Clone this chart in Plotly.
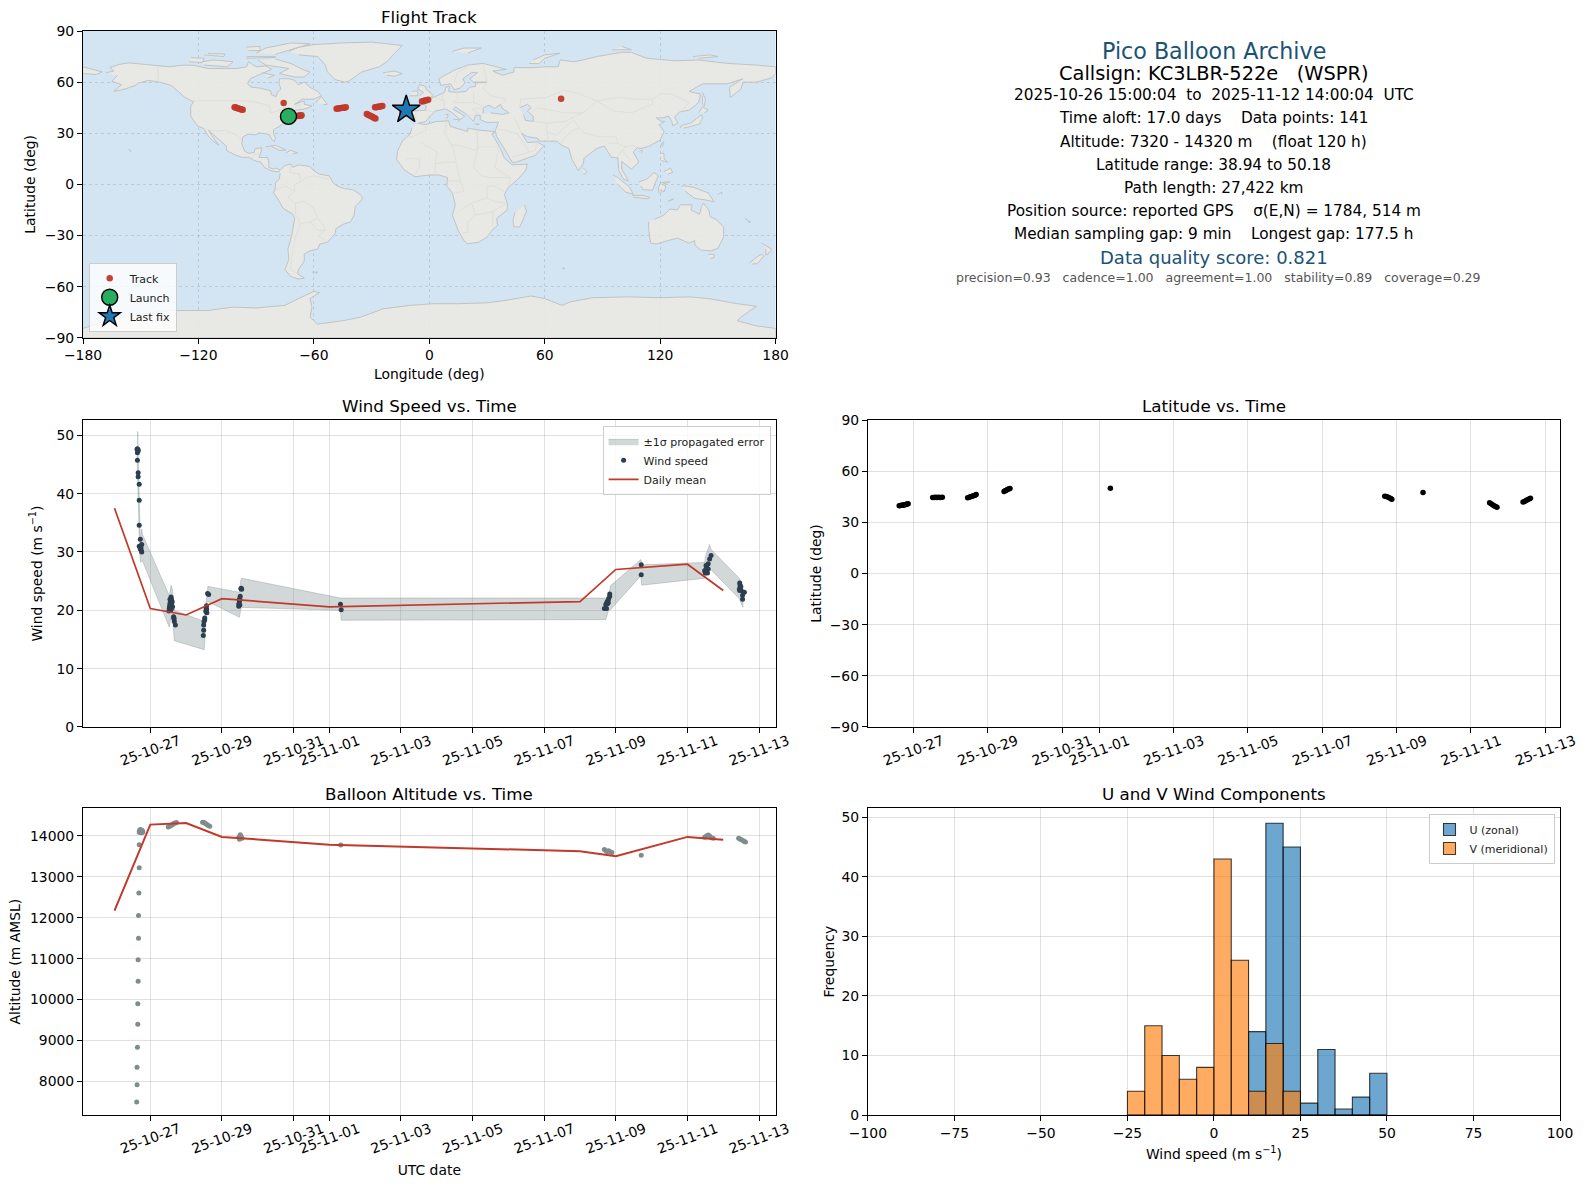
import pandas as pd
import plotly.graph_objects as go

W, H = 1587, 1189
BASE_DATE = pd.Timestamp("2025-10-26")

# axis boxes in pixels
LEFT_X = (83.3, 776)
RIGHT_X = (868.3, 1560.5)
ROW1_Y = (31.4, 338)
ROW2_Y = (420.3, 727)
ROW3_Y = (808.3, 1114.8)

# coastlines as (lon, lat)
NORTH_AMERICA = [(-168, 65.5), (-164, 66.5), (-166, 68.5), (-161, 70.5), (-156, 71.3), (-148, 70.4), (-141, 69.6),
                 (-135, 69), (-128, 70), (-122, 69.8), (-115, 68), (-108, 68), (-100, 68), (-95, 69), (-94, 72),
                 (-90, 69), (-85, 69.5), (-82, 67.5), (-87, 65), (-93, 62), (-94.5, 59), (-92.5, 57), (-88, 56.5),
                 (-82.5, 55), (-82, 52.5), (-79.5, 51.5), (-79, 54), (-77, 56), (-78, 58.5), (-78, 62), (-73, 62),
                 (-70, 61), (-68, 58.5), (-65, 60), (-62, 57), (-58, 54.5), (-56, 52), (-60, 50), (-66, 50), (-70, 47),
                 (-65, 49), (-65, 47), (-61, 46), (-64, 44.5), (-66, 44), (-70, 43.5), (-70.5, 41.7), (-74, 40.5),
                 (-75.5, 38), (-76, 35.5), (-78, 34), (-81, 32), (-81, 30), (-80, 27), (-80.5, 25.2), (-82, 26.5),
                 (-83, 29), (-85, 29.7), (-89, 30.2), (-90, 29), (-94, 29.5), (-97, 27.8), (-97.5, 24), (-96, 19.5),
                 (-94, 18.2), (-91, 18.8), (-90.5, 21), (-87, 21.5), (-88, 17), (-88.5, 15.8), (-84, 15.8), (-83.3, 12),
                 (-83.5, 10), (-81, 9), (-79.5, 9.5), (-77.5, 8.5), (-78, 7.5), (-80, 7.5), (-83, 8.3), (-85.7, 10),
                 (-87.5, 13), (-91, 14), (-94, 16), (-97, 15.8), (-101, 17.3), (-105.5, 20), (-105.5, 22.5), (-109, 26),
                 (-112.5, 30), (-114.7, 31.7), (-113, 28.5), (-110, 24), (-109.5, 23), (-112, 25), (-115, 28.5),
                 (-117, 32.5), (-120.5, 34.5), (-122.5, 37.5), (-124, 40), (-124, 46), (-122.5, 48.5), (-127, 51),
                 (-130.5, 54.5), (-134, 58), (-140, 60), (-146, 61), (-151, 59.5), (-153, 58), (-158, 56), (-164, 54.5),
                 (-160, 58.5), (-165, 60.5), (-162, 64)]
GREENLAND = [(-73, 78), (-68, 80.5), (-60, 82), (-45, 83), (-30, 83.5), (-14, 81.5), (-18, 77), (-22, 72), (-26, 69),
             (-35, 66), (-42, 60.5), (-44, 60), (-49, 61.5), (-53, 66), (-54, 70), (-58, 75), (-68, 76)]
SOUTH_AMERICA = [(-77.5, 8.5), (-75, 11), (-72, 12), (-71, 10), (-68, 11.5), (-62, 10.5), (-60, 8), (-57, 6), (-52, 5),
                 (-50, 1), (-48, -1), (-44, -2.5), (-40, -3), (-37, -5), (-35, -7), (-35, -9), (-38.5, -13), (-39, -18),
                 (-41, -22), (-45, -23.5), (-48.5, -26), (-49, -29), (-53, -34), (-57, -35), (-58, -38), (-62, -39),
                 (-65, -41), (-65, -45), (-68, -50), (-68.5, -52.5), (-65, -55), (-68, -55.5), (-72, -54), (-75, -50),
                 (-73, -44), (-73.5, -38), (-71.5, -30), (-70, -20), (-71, -17.5), (-76, -14), (-79, -8), (-81, -5),
                 (-80, -2), (-80, 1), (-78, 3), (-77.5, 6.5)]
AFRICA = [(-6, 35.8), (-2, 35), (3, 36.8), (10, 37.3), (11, 34), (15, 32.5), (20, 31), (20, 33), (25, 32), (31, 31.3),
          (34, 31), (32.5, 29.5), (34, 27), (37, 21), (39, 15.5), (43, 11.5), (51, 11.8), (50, 8), (46, 3), (41, -2),
          (39, -6), (40.5, -11), (40.5, -15), (35, -20), (35.5, -24), (32.5, -27), (30, -31), (25.5, -34), (20, -34.8),
          (18, -33), (15, -27), (12, -18), (13.5, -12), (12, -5), (9, -1), (9.5, 4), (5, 5.5), (0, 5.5), (-7.5, 4.5),
          (-13, 8.5), (-17, 14.5), (-16.5, 19.5), (-14, 25.5), (-10, 29.5), (-9, 33)]
EURASIA = [(-9, 37), (-9.5, 43), (-2, 43.5), (-1.5, 46), (-4.5, 48.5), (2, 51), (8, 54), (8.5, 57), (10.5, 57.5),
           (10, 54.5), (14, 54), (19, 54.5), (21, 57), (24, 57.5), (24, 59.5), (30, 60), (23, 60), (21, 62), (25, 65.5),
           (22, 65.7), (17.5, 62), (18.5, 59.5), (16, 56.5), (13, 55.5), (11, 59), (6, 58), (5, 62), (13, 67), (20, 70),
           (28, 71), (40, 67.5), (33, 66.5), (38, 64), (44, 66), (44, 68.5), (54, 68.5), (60, 69), (67, 69), (68, 73),
           (73, 72), (75, 72), (80, 73), (87, 75), (100, 77.5), (105, 77.5), (113, 74), (128, 72.5), (140, 73),
           (155, 71), (170, 70), (180, 69), (180, 65), (178, 62.5), (170, 60), (163, 60), (162, 56), (156.5, 51),
           (156, 57), (163, 62), (155, 59), (142, 59), (135, 54.5), (141, 53), (140, 48), (135, 43.5), (130, 42.5),
           (127.5, 39.5), (129.3, 36), (126.5, 34.5), (126, 37), (124.5, 40), (121, 39), (118, 39), (120.5, 37),
           (122.5, 37), (119.5, 35), (122, 31), (120, 26), (114, 22.3), (110, 21), (108, 21.5), (106, 19), (109, 13),
           (105, 9), (100, 13.5), (100, 9), (103.5, 2), (101, 3), (98.5, 8), (98, 15.5), (94.5, 16), (91, 22.5),
           (87, 21), (80.5, 15.5), (80, 12), (77.5, 8), (74, 15), (72.5, 21), (68, 23.5), (66.5, 25.3), (57, 25.5),
           (56.5, 27), (51, 28), (48, 30), (51, 24.5), (56, 25), (59.5, 22.5), (55, 17), (45, 13), (43, 13), (39, 21),
           (35, 28), (34.3, 31.5), (36, 36.5), (30, 36.3), (26.5, 38), (26.5, 40.5), (24, 40.5), (23, 37), (19.5, 41),
           (13.5, 45.5), (12.5, 44), (18.5, 40), (16, 38), (12, 42), (8.5, 44.3), (3, 43), (0, 39.5), (-2, 36.8),
           (-5.5, 36)]
CHUKOTKA_WEST = [(-180, 69), (-175, 67.5), (-170, 66), (-173, 64.5), (-180, 65)]
AUSTRALIA = [(114, -22), (114, -26), (115, -34.5), (118, -35), (124, -33), (129, -31.5), (135, -34.5), (138, -33),
             (138, -35.5), (141, -38.5), (146.5, -39), (150, -37.5), (153, -31), (153, -25), (149, -20.5), (146, -19),
             (145.3, -15), (142.5, -11), (141.5, -13), (140.5, -17.5), (136, -15), (136.7, -12), (130.5, -12),
             (129, -15), (125, -14.5), (122, -18), (117, -20.5)]
ANTARCTICA = [(-180, -84.5), (-165, -79), (-150, -76), (-135, -74), (-115, -74), (-102, -72), (-90, -72.5), (-75, -71),
              (-68, -67), (-60, -62.8), (-57, -63.5), (-62, -67), (-61, -72), (-62, -78), (-58, -82), (-45, -80),
              (-36, -78), (-24, -73), (-10, -71), (2, -70), (15, -70), (30, -69.5), (40, -68), (53, -65.5), (60, -67),
              (69, -71), (73, -69), (85, -66.5), (104, -66), (120, -66.5), (135, -66), (145, -67), (160, -70),
              (170, -71.5), (163, -77), (160, -80), (170, -83), (180, -84.5), (180, -90), (-180, -90)]
ISLANDS = [
    [(-80, 73.5), (-72, 71), (-65, 67), (-62, 66), (-65, 63), (-70, 63), (-78, 65), (-73, 68), (-85, 70), (-89, 73)],
    [(-90, 77), (-85, 80), (-72, 83), (-62, 82.5), (-75, 78), (-80, 76.3)],
    [(-117, 70), (-105, 69), (-102, 72), (-112, 73), (-118, 72)],
    [(-125, 72), (-118, 71.5), (-117, 74), (-124, 74.3)],
    [(-95, 75), (-80, 75), (-80, 74.5), (-95, 74)],
    [(-117, 76), (-107, 75), (-106, 76.5), (-115, 76.8)],
    [(-95, 80.5), (-88, 81), (-88, 78.5), (-94, 78.5)],
    [(-87, 65.5), (-80.5, 64), (-84, 62.5)],
    [(-59, 48), (-56, 51.5), (-53, 47), (-55, 46.8)],
    [(-85, 22), (-80, 23), (-75, 20.5), (-74.5, 20), (-78, 20), (-82, 22.3)],
    [(-74.5, 18.5), (-72, 20), (-68.5, 18.5), (-71, 18)],
    [(-156.5, 20.5), (-155, 19.8), (-155.5, 19)],
    [(-61, -51.5), (-58, -51.5), (-59, -52.3)],
    [(-5.5, 50), (1.5, 51.3), (1.5, 53), (-1.5, 55.5), (-2, 57.5), (-5, 58.5), (-6, 56), (-3, 54), (-5, 52)],
    [(-10, 52), (-6, 52), (-6, 55), (-9, 54.5)],
    [(-24, 65.5), (-18, 66.5), (-14, 65), (-18, 63.5), (-22, 64)],
    [(12, 78), (18, 80), (27, 80), (20, 77)],
    [(52, 71), (57, 70.8), (60, 74), (68, 77), (60, 76), (54, 73)],
    [(95, 79), (105, 79), (100, 81)],
    [(137, 75), (146, 76), (150, 75), (140, 74)],
    [(142, 54), (143.5, 50), (143, 46), (142, 47), (142, 52)],
    [(140, 42), (142, 45.5), (145, 43.5), (143, 42)],
    [(130.5, 33), (131, 34.5), (136, 36), (140, 40), (141.5, 41), (142, 39), (140.5, 35.5), (136, 34), (132, 33)],
    [(120.3, 22.5), (121.5, 25), (122, 24.5), (121, 22)],
    [(109, 19), (110.5, 20), (111, 19.5), (110, 18.3)],
    [(80, 9.5), (82, 7.5), (81, 6), (80, 6.5)],
    [(120.5, 18.5), (122, 18), (122, 15), (124, 13), (120.5, 14)],
    [(122, 7.5), (125.5, 9.5), (126.5, 7), (124, 6)],
    [(109, 1.5), (113, 3), (117, 7), (119, 5), (117.5, 1), (116, -3.5), (111, -3), (110, -1)],
    [(95.5, 5.5), (98, 4), (104, -1.5), (106, -5.8), (102, -4.5), (98, 0)],
    [(105.5, -6.5), (111, -6.5), (114.5, -7.5), (114, -8.5), (106, -7.5)],
    [(119.5, -5.5), (119, -2), (120.5, 1), (125, 1.5), (121, 0), (123, -1), (122, -4.5), (120.5, -3), (120.5, -5.5)],
    [(131, -1), (134, -1), (138, -2), (145, -5), (148, -10.2), (143, -9), (138, -8.3), (133, -4)],
    [(124, -10), (127, -8.5), (125, -9.5)],
    [(150, -6), (152, -4.5), (152, -6)],
    [(49.5, -12), (50.5, -16), (47, -25), (44, -25), (43.5, -21), (44.5, -16.5)],
    [(145, -41), (148, -41), (148, -43), (146, -43.5)],
    [(166.5, -46), (171, -42), (173, -41), (174, -42), (170.5, -46.5), (168, -46.7)],
    [(172.7, -34.5), (178, -38), (176, -41), (174.8, -41.3), (175, -38)],
    [(164, -20), (167, -22.3), (165.5, -21.8)],
    [(69, -49), (70.5, -49.3), (69.5, -49.8)],
    [(12.5, 38), (15.5, 38), (15, 36.8)],
    [(8.3, 41), (9.7, 41), (9.5, 39), (8.5, 39)],
    [(23.5, 35.5), (26, 35.3), (24.5, 35)],
]
INLAND_SEAS = [
    [(28, 41.5), (28, 45), (31, 46.5), (34, 44.5), (37, 47), (38, 44.5), (41.5, 42), (38, 41), (32, 42)],
    [(47, 45), (51, 47), (53, 45), (51, 43), (54, 40), (54, 37), (50, 37.5), (49, 41)],
]
BORDERS = [
    [(-141, 69.6), (-141, 60)],
    [(-123, 49), (-95, 49), (-89, 48), (-83, 46), (-82.5, 42), (-79, 43), (-75, 45), (-71, 45), (-67.5, 47), (-67, 45)],
    [(-117, 32.5), (-111, 31.3), (-106.5, 31.7), (-101, 29.5), (-97.5, 26)],
    [(-92, 14.5), (-91, 17.5), (-89, 18), (-88.5, 16)],
    [(-72, 11), (-72.5, 7), (-67.5, 6), (-67, 1.5)],
    [(-52, 3), (-60, 5), (-64, 4), (-67, 1.5), (-70, 0), (-70, -4), (-73.5, -7.5), (-70, -11), (-65, -10), (-60, -14),
     (-58, -20), (-55, -24), (-54, -27), (-57.5, -30), (-53.5, -33.5)],
    [(-69.5, -11), (-69.5, -17.5), (-67, -23), (-70, -33), (-71.5, -42), (-72, -50), (-68.5, -52.5)],
    [(-80, -3.5), (-75, -1), (-70, -4)],
    [(-67, -23), (-62, -22), (-58, -20)],
    [(-62, -22), (-58, -27), (-54, -27)],
    [(-2, 35), (-1.5, 32), (-8.5, 28), (-13, 27.5)],
    [(9, 37), (8, 30), (11.5, 23), (15, 23), (24, 20), (25, 22), (36.5, 22)],
    [(25, 32), (25, 20), (24, 15.5), (23, 10), (27, 5), (31, 4), (34, 4), (42, 4), (41, -2)],
    [(12, 23), (14, 13), (8, 13), (3, 12), (3, 6)],
    [(-5, 25), (4, 19), (3, 12)],
    [(-12, 15), (-5, 15), (-5, 10), (-8, 5)],
    [(14, 13), (15, 8), (16, 2), (9, 2)],
    [(16, 2), (18, -4), (12, -5.5)],
    [(30, -1), (30, -8), (22, -11), (13.5, -17)],
    [(22, -11), (24, -18), (20, -22), (20, -28), (17, -28.5)],
    [(24, -18), (33, -16), (40, -11)],
    [(30, -8), (34, -10), (40, -11)],
    [(33, -16), (33, -25)],
    [(30, -1), (34, -1), (39, -4.5)],
    [(36.5, 22), (34, 10), (42, 4)],
    [(-2, 43.5), (3, 42.5)],
    [(2.5, 51), (8, 49), (7.5, 44)],
    [(-7, 42), (-7, 37)],
    [(7, 53.5), (7, 49)],
    [(14, 54), (15, 51), (12.5, 48), (17, 48), (23, 48), (23, 54)],
    [(23, 48), (29, 45.5), (22, 44), (26, 41.5), (20, 40)],
    [(13, 60), (15, 66), (20, 69)],
    [(28, 70), (30, 60), (28, 56), (32, 52), (40, 50), (38, 47)],
    [(47, 45), (47.5, 50), (61, 51), (70, 55), (77, 53.5), (87, 49), (98, 51), (107, 50), (116, 50), (120, 53), (126, 53),
     (135, 48), (131, 43), (130.5, 42.5)],
    [(87, 49), (96, 43), (105, 42), (112, 45), (116, 47), (116, 50)],
    [(87, 49), (80, 42), (74, 39), (78, 33), (81, 30), (88, 28), (97, 28), (98, 24), (102, 22), (106, 23), (108, 21.5)],
    [(53, 42), (56, 45), (61, 44), (70, 42), (80, 42)],
    [(44, 39), (46, 35), (48, 30)],
    [(54, 37), (61, 36), (71, 37), (74, 39)],
    [(61, 36), (61, 31), (62, 25.5)],
    [(61, 31), (66, 29), (70, 33), (74, 37)],
    [(68, 23.5), (71, 28), (75, 32), (78, 33)],
    [(36, 32), (39, 32), (46, 29.5), (52, 19), (55, 20), (56, 24.5)],
    [(43, 16), (52, 19)],
    [(93, 24), (98, 24)],
    [(98, 16), (100, 20), (102, 22)],
    [(105, 14), (100, 20)],
]

# flight track on the map
track_lon = [-68.5, -68.0, -67.6, -67.2, -66.8, -66.4, -48.2, -47.4, -46.6, -45.8, -45.0, -44.2, -43.4,
             -28.2, -27.5, -26.8, -26.0, -25.2, -24.4, -3.8, -3.0, -2.2, -1.4, -0.6, 68.5,
             -101.2, -100.6, -100.0, -99.2, -98.4, -97.6, -97.0, -75.7,
             -32.5, -31.8, -31.0, -30.2, -29.4, -28.6, -28.0, -14.0, -13.0, -12.0]
track_lat = [40.1, 40.2, 40.2, 40.3, 40.3, 40.5, 44.4, 44.5, 44.7, 44.8, 44.9, 45.0, 45.2,
             45.2, 45.3, 45.5, 45.6, 45.8, 46.0, 48.7, 48.9, 49.2, 49.4, 49.7, 50.2,
             45.2, 45.1, 44.8, 44.5, 44.2, 44.0, 43.8, 47.7,
             41.3, 40.9, 40.4, 40.0, 39.5, 39.0, 38.6, 42.0, 43.0, 43.8]
launch_lon, launch_lat = [-73.2], [39.9]
last_lon, last_lat = [-12.0], [43.8]

# wind speed vs. time, x in days after 2025-10-26 00:00
wind_days = [0.63, 0.64, 0.66, 0.64, 0.66, 0.64, 0.66, 0.66, 0.69, 0.69, 0.69, 0.72, 0.69, 0.72, 0.76, 0.72, 0.75, 0.76,
             0.74, 1.52, 1.53, 1.54, 1.55, 1.54, 1.56, 1.57, 1.58, 1.59, 1.60, 1.60, 1.61, 1.59, 1.57, 1.55, 1.58, 1.62,
             1.65, 1.66, 1.67, 1.66, 1.70, 2.48, 2.49, 2.49, 2.50, 2.52, 2.52, 2.55, 2.56, 2.56, 2.57, 2.57, 2.58, 2.60,
             2.63, 3.47, 3.47, 3.49, 3.48, 3.50, 3.51, 3.50, 3.53, 3.55, 3.54, 6.31, 6.33, 13.68, 13.74, 13.72, 13.75,
             13.76, 13.78, 13.79, 13.80, 13.83, 13.83, 14.71, 14.71, 16.48, 16.52, 16.54, 16.58, 16.62, 16.66, 16.56,
             16.58, 16.52, 16.50, 17.46, 17.47, 17.47, 17.46, 17.50, 17.59, 17.54, 17.54, 17.49, 17.45]
wind_speed = [47.6, 47.7, 47.5, 47.0, 47.3, 45.7, 43.6, 42.9, 41.6, 38.85, 34.6, 32.2, 31.0, 30.8, 31.3, 30.5, 30.2, 30.0,
              30.7, 19.9, 20.3, 20.8, 21.2, 20.5, 21.6, 21.0, 22.3, 21.9, 21.3, 20.7, 21.5, 20.3, 20.0, 21.9, 20.9, 20.6,
              18.9, 18.5, 18.1, 18.7, 17.5, 15.7, 16.6, 17.5, 18.1, 18.4, 18.7, 19.8, 20.1, 20.4, 20.8, 20.2, 19.6, 22.9,
              22.7, 20.7, 21.1, 21.5, 21.8, 22.0, 22.4, 20.9, 23.7, 23.6, 23.8, 21.05, 20.1, 20.3, 20.3, 21.0, 21.4,
              21.1, 21.7, 21.3, 22.0, 22.4, 22.8, 27.8, 26.1, 26.8, 27.1, 27.7, 28.0, 28.8, 29.4, 26.4, 27.1, 27.7, 26.4,
              24.7, 24.3, 23.9, 23.4, 23.4, 23.1, 22.6, 21.9, 24.1, 23.6]

# error band corners
band_days = [0.63, 0.655, 0.665, 0.69, 0.70, 0.72, 0.73, 0.76, 0.78, 1.53, 1.58, 1.62, 1.65, 1.67, 2.505, 2.52, 2.56,
             2.61, 3.49, 3.52, 3.55, 6.31, 6.33, 13.72, 13.80, 13.85, 14.70, 14.72, 16.48, 16.52, 16.62, 16.65, 17.45,
             17.55]
band_upper = [50.7, 50.5, 45.5, 36.5, 34.0, 32.5, 32.0, 33.9, 33.0, 22.5, 24.3, 23.5, 21.0, 20.0, 18.1, 19.5, 21.5,
              24.1, 23.1, 25.0, 25.5, 22.1, 22.1, 22.1, 22.5, 24.2, 28.7, 27.8, 28.2, 29.6, 31.3, 30.5, 25.5, 24.0]
band_lower = [46.5, 44.0, 41.0, 32.5, 30.0, 29.0, 28.2, 28.5, 28.5, 17.1, 18.9, 19.0, 16.0, 14.8, 13.25, 14.5, 21.0,
              21.5, 18.8, 20.0, 20.5, 20.0, 18.3, 18.4, 20.0, 20.1, 25.9, 24.3, 25.5, 26.0, 27.0, 27.0, 22.0, 20.5]

# daily means, shared x
mean_days = [0, 1, 2, 3, 6, 13, 14, 16, 17]
wind_mean = [37.5, 20.3, 19.2, 22.0, 20.6, 21.5, 27.0, 27.9, 23.4]
alt_mean = [12170, 14270, 14310, 13970, 13780, 13620, 13500, 13970, 13900]

# latitude vs. time
lat_days = [0.62, 0.65, 0.68, 0.71, 0.74, 0.77, 0.80, 0.83, 0.86, 1.52, 1.56, 1.60, 1.64, 1.68, 1.72, 1.78,
            2.46, 2.50, 2.54, 2.58, 2.62, 2.66, 2.69, 3.44, 3.47, 3.50, 3.53, 3.56, 3.60, 6.30,
            13.68, 13.72, 13.76, 13.80, 13.84, 13.87, 14.71, 16.50, 16.54, 16.58, 16.62, 16.66, 16.70,
            17.40, 17.44, 17.48, 17.52, 17.56, 17.60]
lat_values = [39.8, 39.9, 40.0, 40.1, 40.2, 40.4, 40.5, 40.8, 40.9, 44.6, 44.6, 44.7, 44.6, 44.7, 44.6, 44.7,
              44.5, 44.8, 45.1, 45.4, 45.7, 46.0, 46.4, 48.2, 48.5, 48.9, 49.3, 49.6, 49.9, 50.1,
              45.4, 45.2, 44.9, 44.5, 44.0, 43.6, 47.6, 41.5, 41.0, 40.4, 39.8, 39.3, 38.9,
              41.9, 42.3, 42.8, 43.3, 43.8, 44.2]

# altitude vs. time
alt_days = [0.62, 0.63, 0.63, 0.64, 0.65, 0.65, 0.66, 0.66, 0.67, 0.67, 0.68, 0.69, 0.69, 0.69, 0.70, 0.72, 0.74, 0.76,
            0.78, 0.79, 0.71, 0.75, 1.50, 1.54, 1.57, 1.60, 1.63, 1.66, 1.70, 1.73, 2.46, 2.49, 2.52, 2.55, 2.58, 2.62,
            2.66, 3.47, 3.49, 3.51, 3.53, 3.56, 3.50, 6.32, 13.68, 13.72, 13.76, 13.80, 13.85, 13.89, 14.71, 16.48,
            16.53, 16.58, 16.62, 16.67, 16.72, 17.43, 17.47, 17.51, 17.55, 17.59, 17.62]
alt_values = [7500, 7920, 8350, 8840, 9400, 9900, 10450, 10970, 11500, 12050, 12600, 13220, 13780, 14090, 14130, 14150,
              14100, 14070, 14120, 14090, 14080, 14140, 14210, 14230, 14250, 14260, 14280, 14300, 14310, 14320, 14330,
              14320, 14310, 14290, 14270, 14250, 14230, 13960, 13910, 14025, 13990, 13940, 13980, 13770, 13660, 13630,
              13610, 13630, 13600, 13590, 13520, 13960, 13990, 14015, 13990, 13950, 13935, 13940, 13920, 13900, 13880,
              13860, 13845]

# histogram counts per 5 m/s bin
bin_edges = [-25, -20, -15, -10, -5, 0, 5, 10, 15, 20, 25, 30, 35, 40, 45]
u_counts = [0, 0, 0, 0, 0, 0, 0, 14, 49, 45, 2, 11, 1, 3, 7]
v_counts = [4, 15, 10, 6, 8, 43, 26, 4, 12, 4, 0, 0, 0, 0, 0]
BIN_WIDTH = 5

date_ticks = ["2025-10-27", "2025-10-29", "2025-10-31", "2025-11-01", "2025-11-03", "2025-11-05", "2025-11-07",
              "2025-11-09", "2025-11-11", "2025-11-13"]
date_labels = ["25-10-27", "25-10-29", "25-10-31", "25-11-01", "25-11-03", "25-11-05", "25-11-07", "25-11-09",
               "25-11-11", "25-11-13"]
date_range = ["2025-10-25 02:53", "2025-11-13 11:06"]
lat_date_range = ["2025-10-25 18:40", "2025-11-13 09:28"]

info_lines = [
    ("Pico Balloon Archive", 51.3, 22.2, "#1a5276", 0),
    ("Callsign: KC3LBR-522e   (WSPR)", 74, 19.4, "black", 0),
    ("2025-10-26 15:00:04  to  2025-11-12 14:00:04  UTC", 95, 15.3, "black", 0),
    ("Time aloft: 17.0 days    Data points: 141", 118, 15.3, "black", 0),
    ("Altitude: 7320 - 14320 m    (float 120 h)", 142, 15.3, "black", 0),
    ("Latitude range: 38.94 to 50.18", 165, 15.3, "black", 0),
    ("Path length: 27,422 km", 188, 15.3, "black", 0),
    ("Position source: reported GPS    σ(E,N) = 1784, 514 m", 211, 15.3, "black", 0),
    ("Median sampling gap: 9 min    Longest gap: 177.5 h", 234, 15.3, "black", 0),
    ("Data quality score: 0.821", 257.5, 18, "#1a5276", 0),
    ("precision=0.93   cadence=1.00   agreement=1.00   stability=0.89   coverage=0.29", 278, 12.5, "#555555", 5),
]
subplot_titles = [
    ("Flight Track", LEFT_X, ROW1_Y),
    ("Wind Speed vs. Time", LEFT_X, ROW2_Y),
    ("Latitude vs. Time", RIGHT_X, ROW2_Y),
    ("Balloon Altitude vs. Time", LEFT_X, ROW3_Y),
    ("U and V Wind Components", RIGHT_X, ROW3_Y),
]

# the margins are the outer edges of the axis boxes, paper coordinates count from there
M_L, M_R = LEFT_X[0], W - RIGHT_X[1]
M_T, M_B = ROW1_Y[0], H - ROW3_Y[1]


def px_x(px):
    return (px - M_L) / (W - M_L - M_R)


def px_y(px):
    return 1 - (px - M_T) / (H - M_T - M_B)


def to_dates(days):
    return BASE_DATE + pd.to_timedelta(days, unit="D")


def join_paths(paths):
    lons, lats = [], []
    for path in paths:
        lons += [p[0] for p in path] + [None]
        lats += [p[1] for p in path] + [None]
    return lons, lats


def dom_x(box):
    return [px_x(box[0]), px_x(box[1])]


def dom_y(box):
    return [px_y(box[1]), px_y(box[0])]


def axis_style(**kw):
    style = dict(showline=True, mirror=True, linecolor="black", linewidth=1.1, ticks="outside", ticklen=5,
                 tickwidth=1.1, tickcolor="black", showgrid=True, gridcolor="rgba(176,176,176,0.38)", gridwidth=1.1,
                 zeroline=False, automargin=False, layer="above traces", tickfont=dict(size=13.9, color="black"))
    style.update(kw)
    return style


def date_axis(x_range, **kw):
    return axis_style(type="date", range=x_range, tickmode="array", tickvals=date_ticks, ticktext=date_labels,
                      tickangle=-20, ticklabelshift=29, ticklabelstandoff=-5, **kw)


def axis_title(text, standoff):
    return dict(text=text, font=dict(size=13.9, color="black"), standoff=standoff)


fig = go.Figure()

# map, one trace per polygon
for path in [NORTH_AMERICA, GREENLAND, SOUTH_AMERICA, AFRICA, EURASIA, CHUKOTKA_WEST, AUSTRALIA, ANTARCTICA] + ISLANDS:
    fig.add_trace(go.Scatter(x=[p[0] for p in path], y=[p[1] for p in path], mode="lines", fill="toself",
                             fillcolor="rgba(234,232,226,0.9)", line=dict(color="#bcbfc0", width=0.9),
                             showlegend=False, hoverinfo="skip", xaxis="x", yaxis="y"))
for path in INLAND_SEAS:
    fig.add_trace(go.Scatter(x=[p[0] for p in path], y=[p[1] for p in path], mode="lines", fill="toself",
                             fillcolor="#d3e5f2", line=dict(color="#bcbfc0", width=0.9),
                             showlegend=False, hoverinfo="skip", xaxis="x", yaxis="y"))
border_lon, border_lat = join_paths(BORDERS)
fig.add_trace(go.Scatter(x=border_lon, y=border_lat, mode="lines", line=dict(color="#dcdcd8", width=0.8),
                         showlegend=False, hoverinfo="skip", xaxis="x", yaxis="y"))
fig.add_trace(go.Scatter(x=track_lon, y=track_lat, mode="markers", name="Track",
                         marker=dict(color="#c0392b", size=6.5, opacity=0.95), legend="legend", xaxis="x", yaxis="y"))
fig.add_trace(go.Scatter(x=launch_lon, y=launch_lat, mode="markers", name="Launch",
                         marker=dict(color="#27ae60", size=16, symbol="circle", line=dict(color="black", width=1.4)),
                         legend="legend", xaxis="x", yaxis="y"))
fig.add_trace(go.Scatter(x=last_lon, y=last_lat, mode="markers", name="Last fix",
                         marker=dict(color="#1f77b4", size=21, symbol="star", line=dict(color="black", width=1.4)),
                         legend="legend", xaxis="x", yaxis="y"))

# wind speed
fig.add_trace(go.Scatter(x=to_dates(band_days + band_days[::-1]), y=band_upper + band_lower[::-1], mode="lines",
                         fill="toself", fillcolor="rgba(127,140,141,0.35)",
                         line=dict(color="rgba(127,140,141,0.35)", width=1), name="±1σ propagated error",
                         legend="legend2", xaxis="x2", yaxis="y2"))
fig.add_trace(go.Scatter(x=to_dates(wind_days), y=wind_speed, mode="markers", name="Wind speed",
                         marker=dict(color="#2c3e50", size=5), legend="legend2", xaxis="x2", yaxis="y2"))
fig.add_trace(go.Scatter(x=to_dates(mean_days), y=wind_mean, mode="lines", name="Daily mean",
                         line=dict(color="#c0392b", width=1.7), legend="legend2", xaxis="x2", yaxis="y2"))

# latitude
fig.add_trace(go.Scatter(x=to_dates(lat_days), y=lat_values, mode="markers", marker=dict(color="black", size=5.5),
                         showlegend=False, xaxis="x3", yaxis="y3"))

# altitude
fig.add_trace(go.Scatter(x=to_dates(alt_days), y=alt_values, mode="markers", marker=dict(color="#7f8c8d", size=5),
                         showlegend=False, xaxis="x4", yaxis="y4"))
fig.add_trace(go.Scatter(x=to_dates(mean_days), y=alt_mean, mode="lines", line=dict(color="#c0392b", width=2),
                         showlegend=False, xaxis="x4", yaxis="y4"))

# histogram
fig.add_trace(go.Bar(x=bin_edges, y=u_counts, width=BIN_WIDTH, offset=0, name="U (zonal)",
                     marker=dict(color="rgba(31,119,180,0.65)", line=dict(color="rgba(0,0,0,0.75)", width=1.1)),
                     legend="legend3", xaxis="x5", yaxis="y5"))
fig.add_trace(go.Bar(x=bin_edges, y=v_counts, width=BIN_WIDTH, offset=0, name="V (meridional)",
                     marker=dict(color="rgba(255,127,14,0.65)", line=dict(color="rgba(0,0,0,0.75)", width=1.1)),
                     legend="legend3", xaxis="x5", yaxis="y5"))

annotations = []
for text, y_px, size, color, dx in info_lines:
    annotations.append(dict(text=text, x=px_x(sum(RIGHT_X) / 2 + dx), y=px_y(y_px), xref="paper", yref="paper",
                            xanchor="center", yanchor="middle", showarrow=False, font=dict(size=size, color=color)))
for text, box_x, box_y in subplot_titles:
    annotations.append(dict(text=text, x=px_x(sum(box_x) / 2), y=px_y(box_y[0] - 14), xref="paper", yref="paper",
                            xanchor="center", yanchor="middle", showarrow=False, font=dict(size=16.7, color="black")))

legend_style = dict(bgcolor="rgba(255,255,255,0.8)", bordercolor="#cccccc", borderwidth=1, font=dict(size=11, color="#222222"),
                    tracegroupgap=0)

fig.update_layout(
    width=W, height=H, margin=dict(l=M_L, r=M_R, t=M_T, b=M_B, pad=0), autosize=False,
    paper_bgcolor="white", plot_bgcolor="white", barmode="overlay", showlegend=True,
    font=dict(family="DejaVu Sans", color="black"),
    annotations=annotations,
    xaxis=axis_style(domain=dom_x(LEFT_X), range=[-180, 180], tickvals=list(range(-180, 181, 60)), anchor="y",
                     griddash="dot", gridcolor="rgba(110,110,110,0.22)", title=axis_title("Longitude (deg)", 6)),
    yaxis=axis_style(domain=dom_y(ROW1_Y), range=[-90, 90], tickvals=list(range(-90, 91, 30)), anchor="x",
                     griddash="dot", gridcolor="rgba(110,110,110,0.22)", title=axis_title("Latitude (deg)", 5)),
    xaxis2=date_axis(date_range, domain=dom_x(LEFT_X), anchor="y2"),
    yaxis2=axis_style(domain=dom_y(ROW2_Y), range=[0, 52.6], tickvals=list(range(0, 51, 10)), anchor="x2",
                      title=axis_title("Wind speed (m s<sup>−1</sup>)", 10)),
    xaxis3=date_axis(lat_date_range, domain=dom_x(RIGHT_X), anchor="y3"),
    yaxis3=axis_style(domain=dom_y(ROW2_Y), range=[-90, 90], tickvals=list(range(-90, 91, 30)), anchor="x3",
                      title=axis_title("Latitude (deg)", 4)),
    xaxis4=date_axis(date_range, domain=dom_x(LEFT_X), anchor="y4", title=axis_title("UTC date", 9)),
    yaxis4=axis_style(domain=dom_y(ROW3_Y), range=[7185, 14667], tickvals=list(range(8000, 14001, 1000)), anchor="x4",
                      tickformat="d", title=axis_title("Altitude (m AMSL)", 6)),
    xaxis5=axis_style(domain=dom_x(RIGHT_X), range=[-100, 100], tickvals=list(range(-100, 101, 25)), anchor="y5",
                      title=axis_title("Wind speed (m s<sup>−1</sup>)", 9)),
    yaxis5=axis_style(domain=dom_y(ROW3_Y), range=[0, 51.5], tickvals=list(range(0, 51, 10)), anchor="x5",
                      title=axis_title("Frequency", 3)),
    legend=dict(x=px_x(89), y=px_y(332), xanchor="left", yanchor="bottom", **legend_style),
    legend2=dict(x=px_x(771), y=px_y(426), xanchor="right", yanchor="top", **legend_style),
    legend3=dict(x=px_x(1555), y=px_y(814), xanchor="right", yanchor="top", **legend_style),
)

# ocean behind the map, under the land polygons
fig.add_shape(type="rect", xref="x domain", yref="y domain", x0=0, x1=1, y0=0, y1=1, layer="below",
              fillcolor="#d3e5f2", line=dict(width=0))

fig.write_html("out.html", config={"displayModeBar": False}, post_script="document.body.style.margin='0';")
